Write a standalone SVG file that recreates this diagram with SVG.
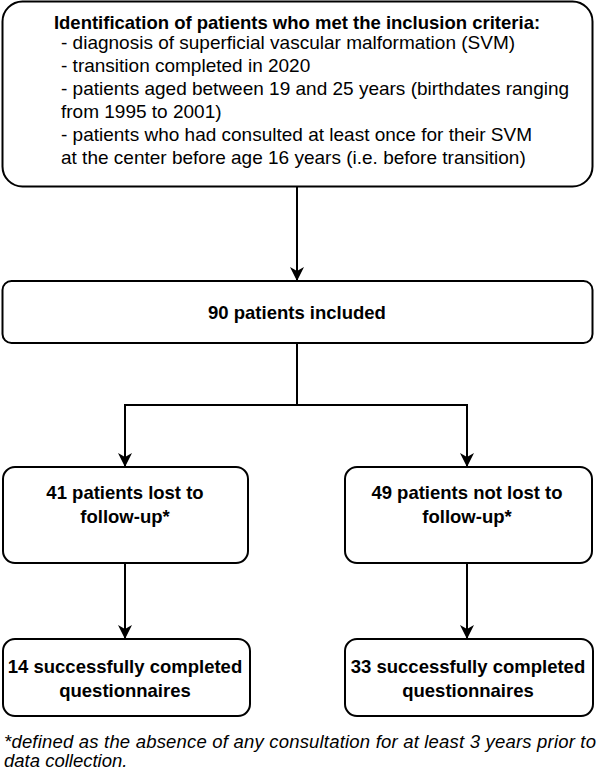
<svg xmlns="http://www.w3.org/2000/svg" width="597" height="772" viewBox="0 0 597 772">
<style>
.box{fill:#fff;stroke:#000;stroke-width:2}
.t{font-family:"Liberation Sans",Arial,sans-serif;font-size:18.5px;fill:#000}
.r{font-size:19px}
.b{font-weight:bold;text-anchor:middle}
.c{fill:none;stroke:#000;stroke-width:2}
.fn{font-style:italic}
</style>
<defs>
<marker id="ah" markerUnits="userSpaceOnUse" markerWidth="16" markerHeight="16" refX="14" refY="7" orient="auto" viewBox="0 0 16 16">
<path d="M0,0 L14,7 L0,14 L4,7 Z" fill="#000"/>
</marker>
</defs>
<rect width="597" height="772" fill="#fff"/>
<g id="connectors">
<path class="c" d="M297,187 V281" marker-end="url(#ah)"/>
<path class="c" d="M297,343 V405 H125 V467" marker-end="url(#ah)"/>
<path class="c" d="M297,405 H467 V467" marker-end="url(#ah)"/>
<path class="c" d="M125,563 V639" marker-end="url(#ah)"/>
<path class="c" d="M467,563 V639" marker-end="url(#ah)"/>
</g>
<g id="criteria">
<rect class="box" x="2.5" y="1.5" width="590" height="185" rx="20"/>
<text class="t b" x="297" y="28.5">Identification of patients who met the inclusion criteria:</text>
<text class="t r" x="61" y="48.5">- diagnosis of superficial vascular malformation (SVM)</text>
<text class="t r" x="61" y="71.5">- transition completed in 2020</text>
<text class="t r" x="61" y="94.5">- patients aged between 19 and 25 years (birthdates ranging</text>
<text class="t r" x="61" y="117.5">from 1995 to 2001)</text>
<text class="t r" x="61" y="140.5">- patients who had consulted at least once for their SVM</text>
<text class="t r" x="61" y="163.5">at the center before age 16 years (i.e. before transition)</text>
</g>
<g id="included">
<rect class="box" x="2.5" y="281" width="590" height="62" rx="9"/>
<text class="t b" x="297" y="319">90 patients included</text>
</g>
<g id="lost">
<rect class="box" x="3" y="467" width="245" height="96" rx="12"/>
<text class="t b" x="125" y="499">41 patients lost to</text>
<text class="t b" x="125" y="523">follow-up*</text>
</g>
<g id="notlost">
<rect class="box" x="345" y="467" width="247" height="96" rx="12"/>
<text class="t b" x="467" y="499">49 patients not lost to</text>
<text class="t b" x="467" y="523">follow-up*</text>
</g>
<g id="completed14">
<rect class="box" x="3" y="639" width="247" height="77" rx="12"/>
<text class="t b" x="125" y="673">14 successfully completed</text>
<text class="t b" x="125" y="697">questionnaires</text>
</g>
<g id="completed33">
<rect class="box" x="345" y="639" width="248" height="77" rx="12"/>
<text class="t b" x="468" y="673">33 successfully completed</text>
<text class="t b" x="468" y="697">questionnaires</text>
</g>
<g id="footnote">
<text class="t fn" x="4" y="748" textLength="592" lengthAdjust="spacing">*defined as the absence of any consultation for at least 3 years prior to</text>
<text class="t fn" x="4" y="767">data collection.</text>
</g>
</svg>
